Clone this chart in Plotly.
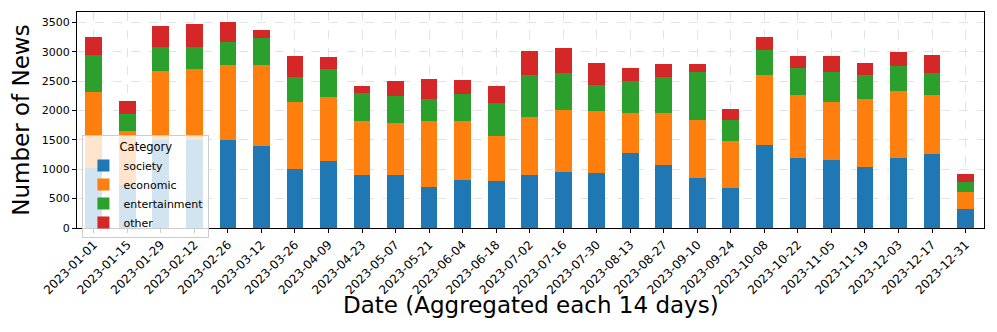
import plotly.graph_objects as go

# ─── Data ─────────────────────────────────────────────────────────────────────
dates = [
    "2023-01-01", "2023-01-15", "2023-01-29", "2023-02-12", "2023-02-26",
    "2023-03-12", "2023-03-26", "2023-04-09", "2023-04-23", "2023-05-07",
    "2023-05-21", "2023-06-04", "2023-06-18", "2023-07-02", "2023-07-16",
    "2023-07-30", "2023-08-13", "2023-08-27", "2023-09-10", "2023-09-24",
    "2023-10-08", "2023-10-22", "2023-11-05", "2023-11-19", "2023-12-03",
    "2023-12-17", "2023-12-31",
]
society = [1020, 740, 1500, 1500, 1498, 1389, 997, 1145, 907, 907,
           691, 822, 793, 895, 946, 929, 1281, 1072, 856, 681,
           1418, 1185, 1157, 1032, 1185, 1259, 328]
economic = [1300, 916, 1172, 1211, 1276, 1379, 1153, 1090, 907, 885,
            1130, 992, 778, 999, 1056, 1067, 669, 890, 975, 800,
            1191, 1084, 993, 1168, 1140, 998, 285]
entertainment = [618, 284, 402, 369, 385, 466, 425, 476, 477, 448,
                 375, 472, 562, 715, 636, 443, 545, 601, 829, 362,
                 426, 454, 510, 397, 432, 386, 170]
other = [318, 226, 364, 386, 341, 141, 346, 205, 126, 262,
         340, 233, 284, 404, 431, 374, 221, 233, 125, 176,
         216, 210, 273, 211, 232, 295, 141]

series = [
    ("society", society, "#1f77b4"),
    ("economic", economic, "#ff7f0e"),
    ("entertainment", entertainment, "#2ca02c"),
    ("other", other, "#d62728"),
]

FONT = "DejaVu Sans, Arial, sans-serif"

fig = go.Figure()
for name, vals, color in series:
    fig.add_trace(go.Bar(
        x=dates, y=vals, name=name,
        marker=dict(color=color, line=dict(width=0)),
        width=0.5,
    ))

# la page ajoute 8px de marge au body : on compense ici
fig.update_layout(
    barmode="stack",
    width=989, height=324,
    margin=dict(l=69, r=13, t=4, b=104),
    plot_bgcolor="white",
    paper_bgcolor="white",
    font=dict(family=FONT, size=11, color="black"),
    legend=dict(
        title=dict(text="Category", side="top center", font=dict(size=11.5)),
        traceorder="normal",
        x=0.006, y=0.43, xanchor="left", yanchor="top",
        bgcolor="rgba(255,255,255,0.8)",
        bordercolor="#cccccc", borderwidth=1,
        font=dict(size=11),
        itemwidth=30,
        tracegroupgap=0,
    ),
    annotations=[dict(
        text="Date (Aggregated each 14 days)",
        xref="paper", yref="paper", x=0.5, y=-0.356,
        xanchor="center", yanchor="middle",
        showarrow=False, font=dict(size=23),
    )],
)

fig.update_xaxes(
    type="category",
    automargin=False,
    range=[-0.5, 26.55],
    tickangle=-45,
    tickfont=dict(size=12),
    ticks="outside", ticklen=4, tickcolor="black",
    showline=True, linecolor="black", linewidth=1, mirror=True,
    showgrid=True, gridcolor="#e3e3e3", griddash="dash",
)
fig.update_yaxes(
    automargin=False,
    range=[0, 3675],
    tickvals=[0, 500, 1000, 1500, 2000, 2500, 3000, 3500],
    tickfont=dict(size=11),
    ticks="outside", ticklen=4, tickcolor="black",
    showline=True, linecolor="black", linewidth=1, mirror=True,
    showgrid=True, gridcolor="#e3e3e3", griddash="dash",
    zeroline=False,
    title=dict(text="Number of News", font=dict(size=23)),
)

fig.write_html("out.html")
